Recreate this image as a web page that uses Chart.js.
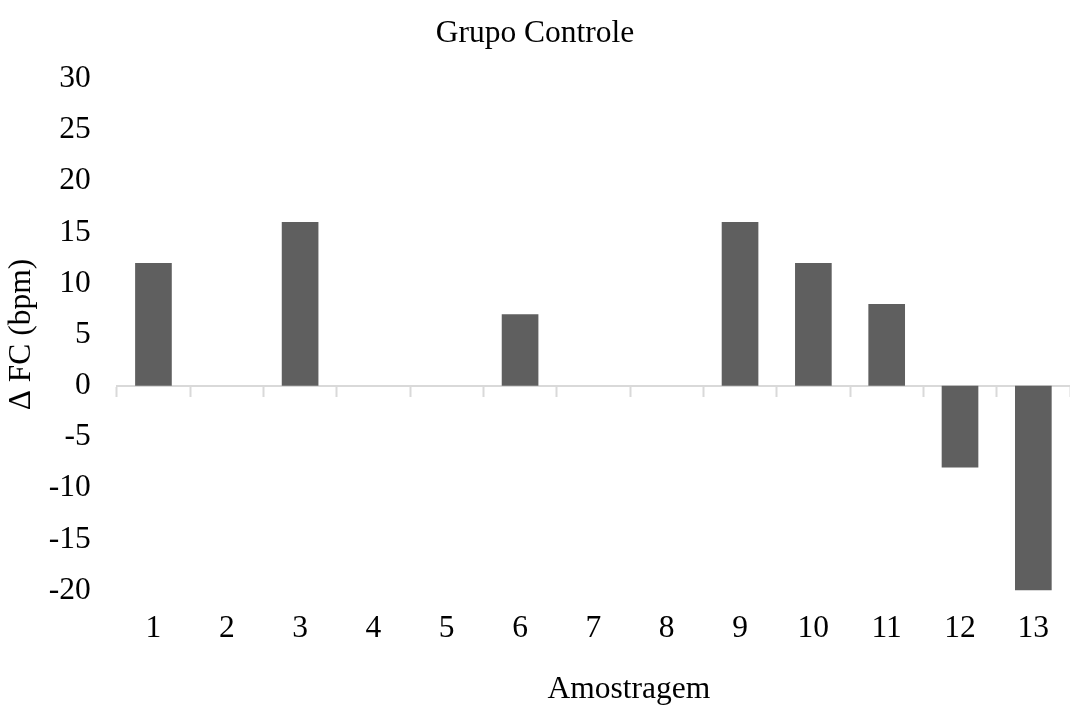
<!DOCTYPE html>
<html>
<head>
<meta charset="utf-8">
<script src="https://cdn.jsdelivr.net/npm/chart.js@4/dist/chart.umd.min.js"></script>
<style>
    html, body { margin: 0; padding: 0; background: #fff; }
    #wrap { width: 1070px; height: 706px; }
</style>
</head>
<body>
<div id="wrap"><canvas id="chart-canvas"></canvas></div>
<script>
// --- DATA ---
const amostras = ['1', '2', '3', '4', '5', '6', '7', '8', '9', '10', '11', '12', '13'];
const deltaFC = [12, 0, 16, 0, 0, 7, 0, 0, 16, 12, 8, -8, -20];
const yMin = -20;
const yMax = 30;
const yStep = 5;

const fontFamily = '"Liberation Serif", "Times New Roman", serif';
const fontSize = 31.5;
const axisGrey = '#d9d9d9';

const ctx = document.getElementById('chart-canvas').getContext('2d');

new Chart(ctx, {
    type: 'bar',
    data: {
        labels: amostras,
        datasets: [{
            label: 'Grupo Controle',
            data: deltaFC,
            backgroundColor: '#5f5f5f',
            borderWidth: 0,
            barPercentage: 0.5,
            categoryPercentage: 1.0,
            xAxisID: 'x',
            yAxisID: 'y'
        }]
    },
    options: {
        responsive: true,
        maintainAspectRatio: false,
        animation: false,
        layout: { padding: { top: 15, left: 0, right: 0, bottom: 0 } },
        plugins: {
            legend: { display: false },
            tooltip: { enabled: false },
            title: {
                display: true,
                text: 'Grupo Controle',
                color: '#000',
                font: { family: fontFamily, size: fontSize, weight: 'normal' },
                padding: { top: 0, bottom: 26 }
            }
        },
        scales: {
            x: {
                type: 'category',
                position: 'bottom',
                offset: true,
                grid: { display: false, drawTicks: false },
                border: { display: false },
                ticks: {
                    color: '#000',
                    padding: 19,
                    maxRotation: 0,
                    font: { family: fontFamily, size: fontSize }
                },
                title: {
                    display: true,
                    // leading spaces push the title right, as in the original
                    text: '         Amostragem',
                    color: '#000',
                    font: { family: fontFamily, size: fontSize },
                    padding: { top: 5, bottom: -3 }
                }
            },
            // zero line with small ticks between categories
            x2: {
                type: 'category',
                position: { y: 0 },
                offset: true,
                grid: {
                    offset: true,
                    drawOnChartArea: false,
                    drawTicks: true,
                    tickLength: 10,
                    tickWidth: 2,
                    color: axisGrey
                },
                border: { display: true, color: axisGrey, width: 2 },
                ticks: { display: false }
            },
            y: {
                min: yMin,
                max: yMax,
                grid: { display: false, drawTicks: false },
                border: { display: false },
                ticks: {
                    stepSize: yStep,
                    color: '#000',
                    padding: 26,
                    font: { family: fontFamily, size: fontSize }
                },
                title: {
                    display: true,
                    text: 'Δ FC (bpm)',
                    color: '#000',
                    font: { family: fontFamily, size: fontSize },
                    padding: { top: 3, bottom: -18 }
                }
            }
        }
    }
});
</script>
</body>
</html>
